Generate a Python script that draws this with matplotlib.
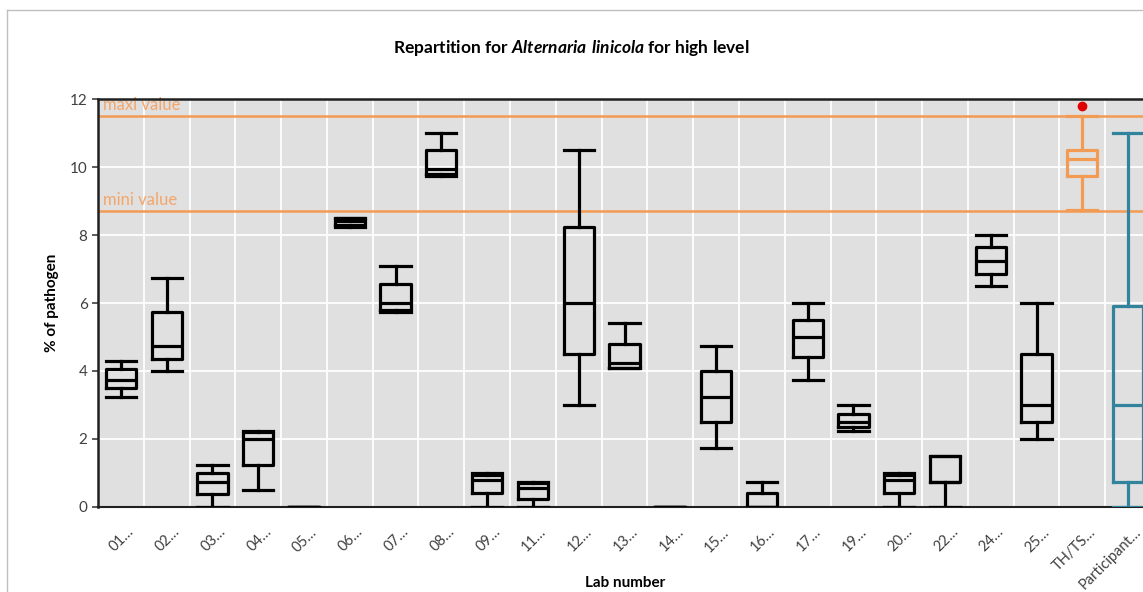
import matplotlib
matplotlib.use("Agg")
import matplotlib.pyplot as plt
import matplotlib.transforms as mtransforms
from matplotlib.lines import Line2D

plt.rcParams['font.family'] = ['Lato', 'DejaVu Sans']
plt.rcParams['mathtext.fontset'] = 'custom'
plt.rcParams['mathtext.bfit'] = 'Lato:italic:bold'
plt.rcParams['mathtext.rm'] = 'Lato:bold'

# lab codes shown on the category axis
labs = ['01…', '02…', '03…', '04…', '05…', '06…', '07…', '08…', '09…', '11…', '12…',
        '13…', '14…', '15…', '16…', '17…', '19…', '20…', '22…', '24…', '25…',
        'TH/TS…', 'Participant…']

# box statistics per lab (% of pathogen)
whislo = [3.25, 4.0, 0.0, 0.5, 0.0, 8.25, 5.75, 9.75, 0.0, 0.0, 3.0,
          4.1, 0.0, 1.75, 0.0, 3.75, 2.25, 0.0, 0.0, 6.5, 2.0, 8.75, 0.0]
q1 = [3.5, 4.35, 0.375, 1.25, 0.0, 8.3, 5.8, 9.8, 0.4, 0.25, 4.5,
      4.1, 0.0, 2.5, 0.0, 4.4, 2.35, 0.4, 0.75, 6.85, 2.5, 9.75, 0.75]
med = [3.75, 4.75, 0.75, 2.0, 0.0, 8.4, 6.0, 9.95, 0.8, 0.55, 6.0,
       4.25, 0.0, 3.25, 0.0, 5.0, 2.5, 0.8, 0.75, 7.25, 3.0, 10.25, 3.0]
q3 = [4.05, 5.75, 1.0, 2.2, 0.0, 8.5, 6.55, 10.5, 0.95, 0.7, 8.25,
      4.8, 0.0, 4.0, 0.4, 5.5, 2.75, 0.95, 1.5, 7.65, 4.5, 10.5, 5.9]
whishi = [4.3, 6.75, 1.25, 2.25, 0.0, 8.5, 7.1, 11.0, 1.0, 0.75, 10.5,
          5.4, 0.0, 4.75, 0.75, 6.0, 3.0, 1.0, 1.5, 8.0, 6.0, 11.5, 11.0]
outliers = {'TH/TS…': [11.8]}

maxi_value = 11.5
mini_value = 8.7

orange = '#F29B55'
teal = '#31849B'
box_colors = ['black'] * 21 + [orange, teal]

fig = plt.figure(figsize=(11.43, 5.92), dpi=100)
ax = fig.add_axes([98 / 1143, 85 / 592, 1053 / 1143, 408 / 592])
ax.set_facecolor('#E0E0E0')

positions = list(range(len(labs)))
for i, lab in enumerate(labs):
    st = {'whislo': whislo[i], 'q1': q1[i], 'med': med[i], 'q3': q3[i],
          'whishi': whishi[i], 'fliers': outliers.get(lab, []), 'label': lab}
    c = box_colors[i]
    lw = 2.3
    ax.bxp([st], positions=[i], widths=0.66, showfliers=True, zorder=3,
           boxprops=dict(color=c, linewidth=lw),
           medianprops=dict(color=c, linewidth=lw),
           whiskerprops=dict(color=c, linewidth=lw),
           capprops=dict(color=c, linewidth=lw),
           capwidths=0.66,
           flierprops=dict(marker='o', markersize=6, markerfacecolor='#E00000',
                           markeredgecolor='#E00000'))

# reference limits
ax.axhline(maxi_value, color=orange, linewidth=1.8, zorder=2)
ax.axhline(mini_value, color=orange, linewidth=1.8, zorder=2)
ax.text(-0.39, maxi_value + 0.08, 'maxi value', color='#F4A66A', fontsize=12, va='bottom', zorder=2)
ax.text(-0.39, mini_value + 0.08, 'mini value', color='#F4A66A', fontsize=12, va='bottom', zorder=2)

ax.set_xlim(-0.5, len(labs) - 0.5)
ax.set_ylim(0, 12)
ax.set_yticks(range(0, 13, 2))
ax.set_xticks(positions)
ax.set_xticks([p + 0.5 for p in positions], minor=True)
ax.tick_params(axis='x', which='both', length=0)
ax.tick_params(axis='y', length=4, width=1.2, color='#404040', labelsize=11, labelcolor='#404040')
ax.set_xticklabels(labs, rotation=45, ha='right', rotation_mode='anchor', fontsize=10.5, color='#404040')
offset = mtransforms.ScaledTranslation(6 / 100, -13 / 100, fig.dpi_scale_trans)
for lbl in ax.get_xticklabels():
    lbl.set_transform(lbl.get_transform() + offset)

ax.grid(True, which='major', axis='y', color='white', linewidth=1.3, zorder=0)
ax.grid(True, which='minor', axis='x', color='white', linewidth=1.3, zorder=0)
ax.set_axisbelow(True)

for side in ['left', 'top', 'bottom']:
    ax.spines[side].set_color('#202020')
ax.spines['left'].set_linewidth(1.8)
ax.spines['top'].set_linewidth(1.8)
ax.spines['bottom'].set_linewidth(1.5)
ax.spines['right'].set_visible(False)

ax.set_title('Repartition for $\\mathbfit{Alternaria\\ linicola}$ for high level',
             fontsize=12.5, fontweight='bold', pad=33, x=(571 - 98) / 1053)
ax.set_ylabel('% of pathogen', fontsize=11, fontweight='bold', labelpad=8)
fig.text(625 / 1143, 1 - 583 / 592, 'Lab number', fontsize=11, fontweight='bold',
         ha='center', va='center')

# outer chart frame
fig.add_artist(Line2D([7 / 1143, 7 / 1143], [0, 1 - 10 / 592], color='#BFBFBF', linewidth=1))
fig.add_artist(Line2D([7 / 1143, 1], [1 - 10 / 592, 1 - 10 / 592], color='#BFBFBF', linewidth=1))

fig.savefig('out.png', dpi=100)
